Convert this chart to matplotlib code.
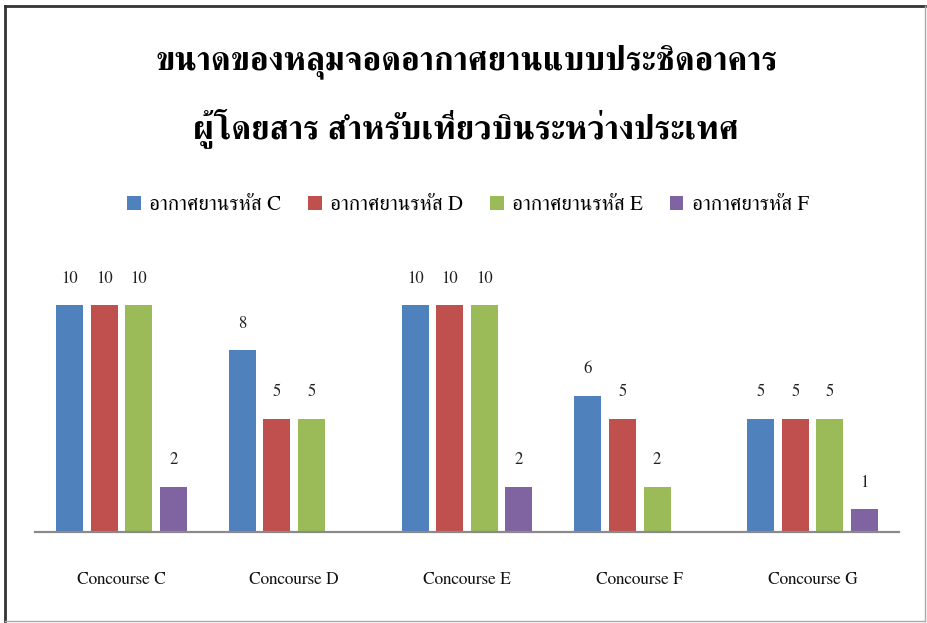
import numpy as np
import matplotlib
matplotlib.use("Agg")
import matplotlib.pyplot as plt
from matplotlib.lines import Line2D
from matplotlib.patches import Patch

plt.rcParams["font.family"] = ["FreeSerif", "DejaVu Serif"]

# Gate counts per concourse for each aircraft code
concourses = ["Concourse C", "Concourse D", "Concourse E", "Concourse F", "Concourse G"]
code_c = [10, 8, 10, 6, 5]
code_d = [10, 5, 10, 5, 5]
code_e = [10, 5, 10, 2, 5]
code_f = [2, 0, 2, 0, 1]
series_labels = ["อากาศยานรหัส C", "อากาศยานรหัส D", "อากาศยานรหัส E", "อากาศยารหัส F"]
title_lines = ["ขนาดของหลุมจอดอากาศยานแบบประชิดอาคาร",
               "ผู้โดยสาร สำหรับเที่ยวบินระหว่างประเทศ"]

colors = ["#4F81BD", "#C0504D", "#9BBB59", "#8064A2"]

fig = plt.figure(figsize=(9.27, 6.23), dpi=100)
ax = fig.add_axes([35 / 927, 91 / 623, 864 / 927, 272.4 / 623])

x = np.arange(len(concourses))
slot = 0.2
width = 0.156
for i, (vals, col) in enumerate(zip([code_c, code_d, code_e, code_f], colors)):
    pos = x + (i - 1.5) * slot
    for xp, v in zip(pos, vals):
        if v == 0:
            continue
        ax.bar(xp, v, width=width, color=col, linewidth=0)
        ax.annotate(str(v), (xp, v), xytext=(0, 19), textcoords="offset points",
                    ha="center", va="center", fontsize=12, color="#222222")

ax.set_xlim(-0.5, len(concourses) - 0.5)
ax.set_ylim(0, 12)
ax.set_yticks([])
ax.set_xticks(x)
ax.set_xticklabels(concourses, fontsize=12.5, color="#111111")
ax.tick_params(axis="x", length=0, pad=29)
for side in ["top", "right", "left"]:
    ax.spines[side].set_visible(False)
ax.spines["bottom"].set_color("#8a8a8a")
ax.spines["bottom"].set_linewidth(1.6)

# Title
fig.text(0.503, 1 - 62 / 623, title_lines[0], ha="center", va="center",
         fontsize=24, fontweight="bold")
fig.text(0.503, 1 - 128 / 623, title_lines[1], ha="center", va="center",
         fontsize=24, fontweight="bold")

# Legend
handles = [Patch(facecolor=c, edgecolor="none") for c in colors]
fig.legend(handles, series_labels, loc="center", bbox_to_anchor=(0.505, 1 - 205 / 623),
           ncol=4, frameon=False, fontsize=15, handlelength=0.65, handleheight=0.65,
           handletextpad=0.4, columnspacing=1.3)

# Outer frame
fig.add_artist(Line2D([5 / 927, 925 / 927], [1 - 6 / 623] * 2, color="#333333", lw=2))
fig.add_artist(Line2D([5 / 927] * 2, [1 - 6 / 623, 1 - 621 / 623], color="#333333", lw=2))
fig.add_artist(Line2D([925 / 927] * 2, [1 - 6 / 623, 1 - 621 / 623], color="#aaaaaa", lw=1))
fig.add_artist(Line2D([5 / 927, 925 / 927], [1 - 621 / 623] * 2, color="#aaaaaa", lw=1))

fig.savefig("out.png", dpi=100)
